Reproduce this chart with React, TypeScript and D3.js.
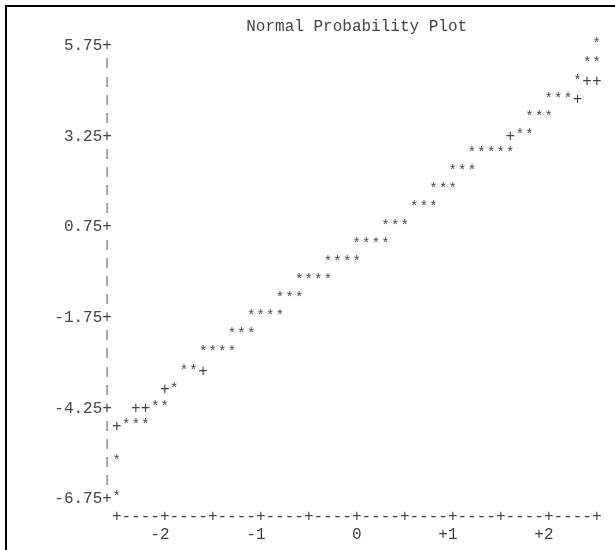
import React from 'react';
import * as d3 from 'd3';

// value level of each printed row (top to bottom)
const rowValues = [
  5.75, 5.25, 4.75, 4.25, 3.75, 3.25, 2.75, 2.25, 1.75, 1.25, 0.75, 0.25, -0.25,
  -0.75, -1.25, -1.75, -2.25, -2.75, -3.25, -3.75, -4.25, -4.75, -5.25, -5.75, -6.25, -6.75
];

// normal quantiles of the observations ('*') on each row
const starQuantiles = [
  [2.5],
  [2.4, 2.5],
  [2.3],
  [2.0, 2.1, 2.2],
  [1.8, 1.9, 2.0],
  [1.7, 1.8],
  [1.2, 1.3, 1.4, 1.5, 1.6],
  [1.0, 1.1, 1.2],
  [0.8, 0.9, 1.0],
  [0.6, 0.7, 0.8],
  [0.3, 0.4, 0.5],
  [0.0, 0.1, 0.2, 0.3],
  [-0.3, -0.2, -0.1, 0.0],
  [-0.6, -0.5, -0.4, -0.3],
  [-0.8, -0.7, -0.6],
  [-1.1, -1.0, -0.9, -0.8],
  [-1.3, -1.2, -1.1],
  [-1.6, -1.5, -1.4, -1.3],
  [-1.8, -1.7],
  [-1.9],
  [-2.1, -2.0],
  [-2.4, -2.3, -2.2],
  [],
  [-2.5],
  [],
  [-2.5]
];

// reference line ('+') where it is not hidden by an observation
const refQuantiles = [
  [], [], [2.4, 2.5], [2.3], [], [1.6], [], [], [], [], [], [], [],
  [], [], [], [], [], [-1.6], [-2.0], [-2.3, -2.2], [-2.5], [], [], [], []
];

const yTicks = [5.75, 3.25, 0.75, -1.75, -4.25, -6.75];
const yTickLabels = ['5.75', '3.25', '0.75', '-1.75', '-4.25', '-6.75'];
const xTicks = [-2, -1, 0, 1, 2];
const xTickLabels = ['-2', '-1', '0', '+1', '+2'];

const title = 'Normal Probability Plot';

const W = 615;
const H = 550;
const cw = 9.6; // char width of a 16px mono font
const font = "'Courier New', 'Liberation Mono', monospace";
const ink = '#444';

const App = () => {
  // one x unit = 10 columns, one row = 0.5 y units
  const x = d3.scaleLinear().domain([-2.5, 2.5]).range([116.7, 596.7]);
  const y = d3.scaleLinear().domain([5.75, -6.75]).range([44.5, 497.5]);
  const step = 0.1; // x width of a column
  const axisX = x(-2.5 - step);

  const ch = (key: string, cx: number, cy: number, s: string, size = 16) => (
    <text key={key} x={cx} y={cy} dy="0.35em" textAnchor="middle" fontSize={size}>
      {s}
    </text>
  );

  const yAxis = d3.range(5.75, -6.76, -0.5).map((v, i) => {
    const isTick = yTicks.some((t) => Math.abs(t - v) < 1e-6);
    return isTick ? ch('ya' + i, axisX, y(v), '+') : ch('ya' + i, axisX, y(v), '|', 11);
  });

  const xAxis = d3.range(0, 51).map((k) => ch('xa' + k, x(-2.5 + k * step), y(-7.25), k % 5 === 0 ? '+' : '-'));

  return (
    <svg width={W} height={H} style={{ position: 'absolute', left: 0, top: 0, background: '#fff' }}>
      <defs>
        <filter id="gray" x={0} y={0} width={W} height={H} filterUnits="userSpaceOnUse">
          <feColorMatrix type="saturate" values="0" />
        </filter>
      </defs>
      <rect x={0} y={0} width={W} height={H} fill="#fff" />
      <path d={`M6,${H} V6 H${W}`} fill="none" stroke="#000" strokeWidth={2} />
      <g filter="url(#gray)">
        <g fontFamily={font} fontSize={16} fill={ink}>
          <text x={x(0)} y={25.5} dy="0.35em" textAnchor="middle">
            {title}
          </text>
          {yTicks.map((t, i) => (
            <text key={'yl' + i} x={axisX - cw / 2} y={y(t)} dy="0.35em" textAnchor="end">
              {yTickLabels[i]}
            </text>
          ))}
          {yAxis}
          {xAxis}
          {xTicks.map((t, i) => (
            <text key={'xl' + i} x={x(t) + cw / 2} y={y(-7.75)} dy="0.35em" textAnchor="end">
              {xTickLabels[i]}
            </text>
          ))}
          {rowValues.map((v, r) =>
            refQuantiles[r].map((q, j) => ch(`r${r}-${j}`, x(q), y(v), '+'))
          )}
          {rowValues.map((v, r) =>
            starQuantiles[r].map((q, j) => ch(`s${r}-${j}`, x(q), y(v) - 1, '*', 14))
          )}
        </g>
      </g>
    </svg>
  );
};

export default App;
